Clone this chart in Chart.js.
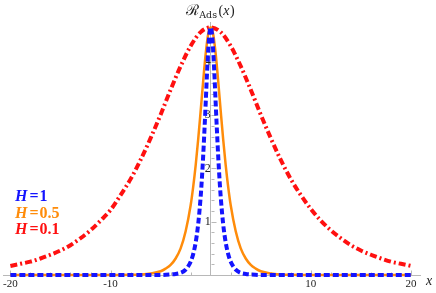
<!DOCTYPE html>
<html><head><meta charset="utf-8">
<script src="https://cdn.jsdelivr.net/npm/chart.js@4.4.0/dist/chart.umd.min.js"></script>
<style>html,body{margin:0;padding:0;background:#fff;}#wrap{width:436px;height:293px;position:relative;}</style>
</head><body><div id="wrap"><canvas id="c"></canvas></div>
<script>
const seriesNames = ['H=1', 'H=0.5', 'H=0.1'];
const seriesValues = ['1', '0.5', '0.1'];
const xTickValues = [-20, -10, 10, 20];
const yTickValues = [1, 2, 3, 4];

const blueX = [-20, -5, -4, -3.5, -3, -2.5, -2, -1.75, -1.5, -1.25, -1, -0.875, -0.75, -0.625, -0.5, -0.375, -0.25, -0.125, 0,
  0.125, 0.25, 0.375, 0.5, 0.625, 0.75, 0.875, 1, 1.25, 1.5, 1.75, 2, 2.5, 3, 3.5, 4, 5, 20];
const blueY = [0, 0, 0.01, 0.02, 0.04, 0.1, 0.25, 0.39, 0.61, 0.95, 1.47, 1.82, 2.23, 2.71, 3.22, 3.75, 4.21, 4.53, 4.65,
  4.53, 4.21, 3.75, 3.22, 2.71, 2.23, 1.82, 1.47, 0.95, 0.61, 0.39, 0.25, 0.1, 0.04, 0.02, 0.01, 0, 0];

const orangeX = [-20, -10, -8, -7, -6, -5, -4.5, -4, -3.5, -3, -2.5, -2, -1.75, -1.5, -1.25, -1, -0.75, -0.5, -0.25, 0,
  0.25, 0.5, 0.75, 1, 1.25, 1.5, 1.75, 2, 2.5, 3, 3.5, 4, 4.5, 5, 6, 7, 8, 10, 20];
const orangeY = [0, 0, 0.004, 0.01, 0.027, 0.07, 0.12, 0.19, 0.31, 0.5, 0.82, 1.31, 1.65, 2.06, 2.54, 3.08, 3.64, 4.15, 4.52, 4.65,
  4.52, 4.15, 3.64, 3.08, 2.54, 2.06, 1.65, 1.31, 0.82, 0.5, 0.31, 0.19, 0.12, 0.07, 0.027, 0.01, 0.004, 0, 0];

const redX = [-20, -19, -18, -17, -16, -15, -14, -13, -12, -11, -10, -9, -8, -7, -6, -5, -4, -3, -2, -1, 0,
  1, 2, 3, 4, 5, 6, 7, 8, 9, 10, 11, 12, 13, 14, 15, 16, 17, 18, 19, 20];
const redY = [0.17, 0.21, 0.25, 0.31, 0.38, 0.46, 0.56, 0.69, 0.84, 1.02, 1.22, 1.5, 1.8, 2.16, 2.57, 3.01, 3.48, 3.92, 4.3, 4.56, 4.65,
  4.56, 4.3, 3.92, 3.48, 3.01, 2.57, 2.16, 1.8, 1.5, 1.24, 1.02, 0.84, 0.69, 0.56, 0.46, 0.38, 0.31, 0.25, 0.21, 0.17];

const colors = ['#1414ff', '#ff8c0a', '#ff1010'];

function pts(xs, ys) { return xs.map((x, i) => ({x: x, y: ys[i]})); }

const overlay = {
  id: 'overlay',
  beforeDatasetsDraw(chart) {
    const ctx = chart.ctx, xs = chart.scales.x, ys = chart.scales.y;
    const x0 = xs.getPixelForValue(0), y0 = ys.getPixelForValue(0);
    ctx.save();
    ctx.strokeStyle = '#b8b8b8';
    ctx.lineWidth = 1;
    ctx.beginPath();
    for (let k = 1; k * 0.2 <= ys.max; k++) {
      const v = k * 0.2;
      const py = Math.round(ys.getPixelForValue(v)) + 0.5;
      const len = (k % 5 === 0) ? 5 : 3;
      ctx.moveTo(Math.round(x0) + 0.5, py);
      ctx.lineTo(Math.round(x0) + 0.5 + len, py);
    }
    for (let v = -20; v <= 20; v += 2) {
      if (v === 0) continue;
      const px = Math.round(xs.getPixelForValue(v)) + 0.5;
      const len = (v % 10 === 0) ? 5 : 3;
      ctx.moveTo(px, Math.round(y0) + 0.5);
      ctx.lineTo(px, Math.round(y0) + 0.5 - len);
    }
    ctx.stroke();
    ctx.restore();
  },
  afterDraw(chart) {
    const ctx = chart.ctx, xs = chart.scales.x, ys = chart.scales.y;
    const x0 = xs.getPixelForValue(0);
    ctx.save();
    ctx.fillStyle = '#222';
    ctx.textBaseline = 'alphabetic';
    ctx.font = '15px "DejaVu Serif", serif';
    ctx.textAlign = 'left';
    let tx = x0 - 25;
    ctx.fillText('\u211B', tx, 15);
    tx += ctx.measureText('\u211B').width + 0.5;
    ctx.font = '9.5px "DejaVu Serif", serif';
    ctx.fillText('Ads', tx, 18);
    tx += ctx.measureText('Ads').width + 1.5;
    ctx.font = '14px "Liberation Serif", serif';
    ctx.fillText('(', tx, 15);
    tx += ctx.measureText('(').width;
    ctx.font = 'italic 14px "Liberation Serif", serif';
    ctx.fillText('x', tx, 15);
    tx += ctx.measureText('x').width + 0.5;
    ctx.font = '14px "Liberation Serif", serif';
    ctx.fillText(')', tx, 15);
    ctx.font = 'italic 14px "Liberation Serif", serif';
    ctx.fillText('x', xs.right + 6, ys.getPixelForValue(0) + 10);
    const base = [201, 217.5, 234];
    for (let i = 0; i < seriesNames.length; i++) {
      ctx.fillStyle = colors[i];
      let lx = 15;
      ctx.font = 'italic bold 16px "Liberation Serif", serif';
      ctx.fillText('H', lx, base[i]);
      lx += ctx.measureText('H').width + 2;
      ctx.font = 'bold 16px "Liberation Serif", serif';
      ctx.fillText('=', lx, base[i]);
      lx += ctx.measureText('=').width + 1;
      ctx.fillText(seriesValues[i], lx, base[i]);
    }
    ctx.restore();
  }
};

new Chart(document.getElementById('c'), {
  type: 'line',
  data: {
    datasets: [
      {label: seriesNames[0], data: pts(blueX, blueY), borderColor: colors[0], borderWidth: 4, borderDash: [6, 3], pointRadius: 0, cubicInterpolationMode: 'monotone', clip: 10, borderCapStyle: 'butt'},
      {label: seriesNames[1], data: pts(orangeX, orangeY), borderColor: colors[1], borderWidth: 2.5, pointRadius: 0, cubicInterpolationMode: 'monotone', clip: 10},
      {label: seriesNames[2], data: pts(redX, redY), borderColor: colors[2], borderWidth: 4, borderDash: [7, 3, 2, 3], pointRadius: 0, cubicInterpolationMode: 'monotone', clip: 10, borderCapStyle: 'butt'}
    ]
  },
  options: {
    responsive: true,
    maintainAspectRatio: false,
    animation: false,
    events: [],
    layout: {padding: {left: 3, right: 16, top: 22, bottom: 18}},
    plugins: {legend: {display: false}, tooltip: {enabled: false}, title: {display: false}},
    scales: {
      x: {
        type: 'linear', min: -20.7, max: 20.9,
        position: {y: 0},
        border: {display: true, color: '#b8b8b8', width: 1},
        grid: {display: true, drawOnChartArea: false, drawTicks: false, color: 'rgba(0,0,0,0)'},
        afterBuildTicks: (s) => { s.ticks = xTickValues.map(v => ({value: v})); },
        ticks: {padding: 3, color: '#222', font: {family: '"Liberation Serif", serif', size: 11}, maxRotation: 0, autoSkip: false}
      },
      y: {
        type: 'linear', min: 0, max: 4.75,
        position: {x: 0},
        border: {display: true, color: '#b8b8b8', width: 1},
        grid: {display: true, drawOnChartArea: false, drawTicks: false, color: 'rgba(0,0,0,0)'},
        afterBuildTicks: (s) => { s.ticks = yTickValues.map(v => ({value: v})); },
        ticks: {padding: 2, color: '#222', font: {family: '"Liberation Serif", serif', size: 12}, autoSkip: false}
      }
    }
  },
  plugins: [overlay]
});
</script>
</body></html>
